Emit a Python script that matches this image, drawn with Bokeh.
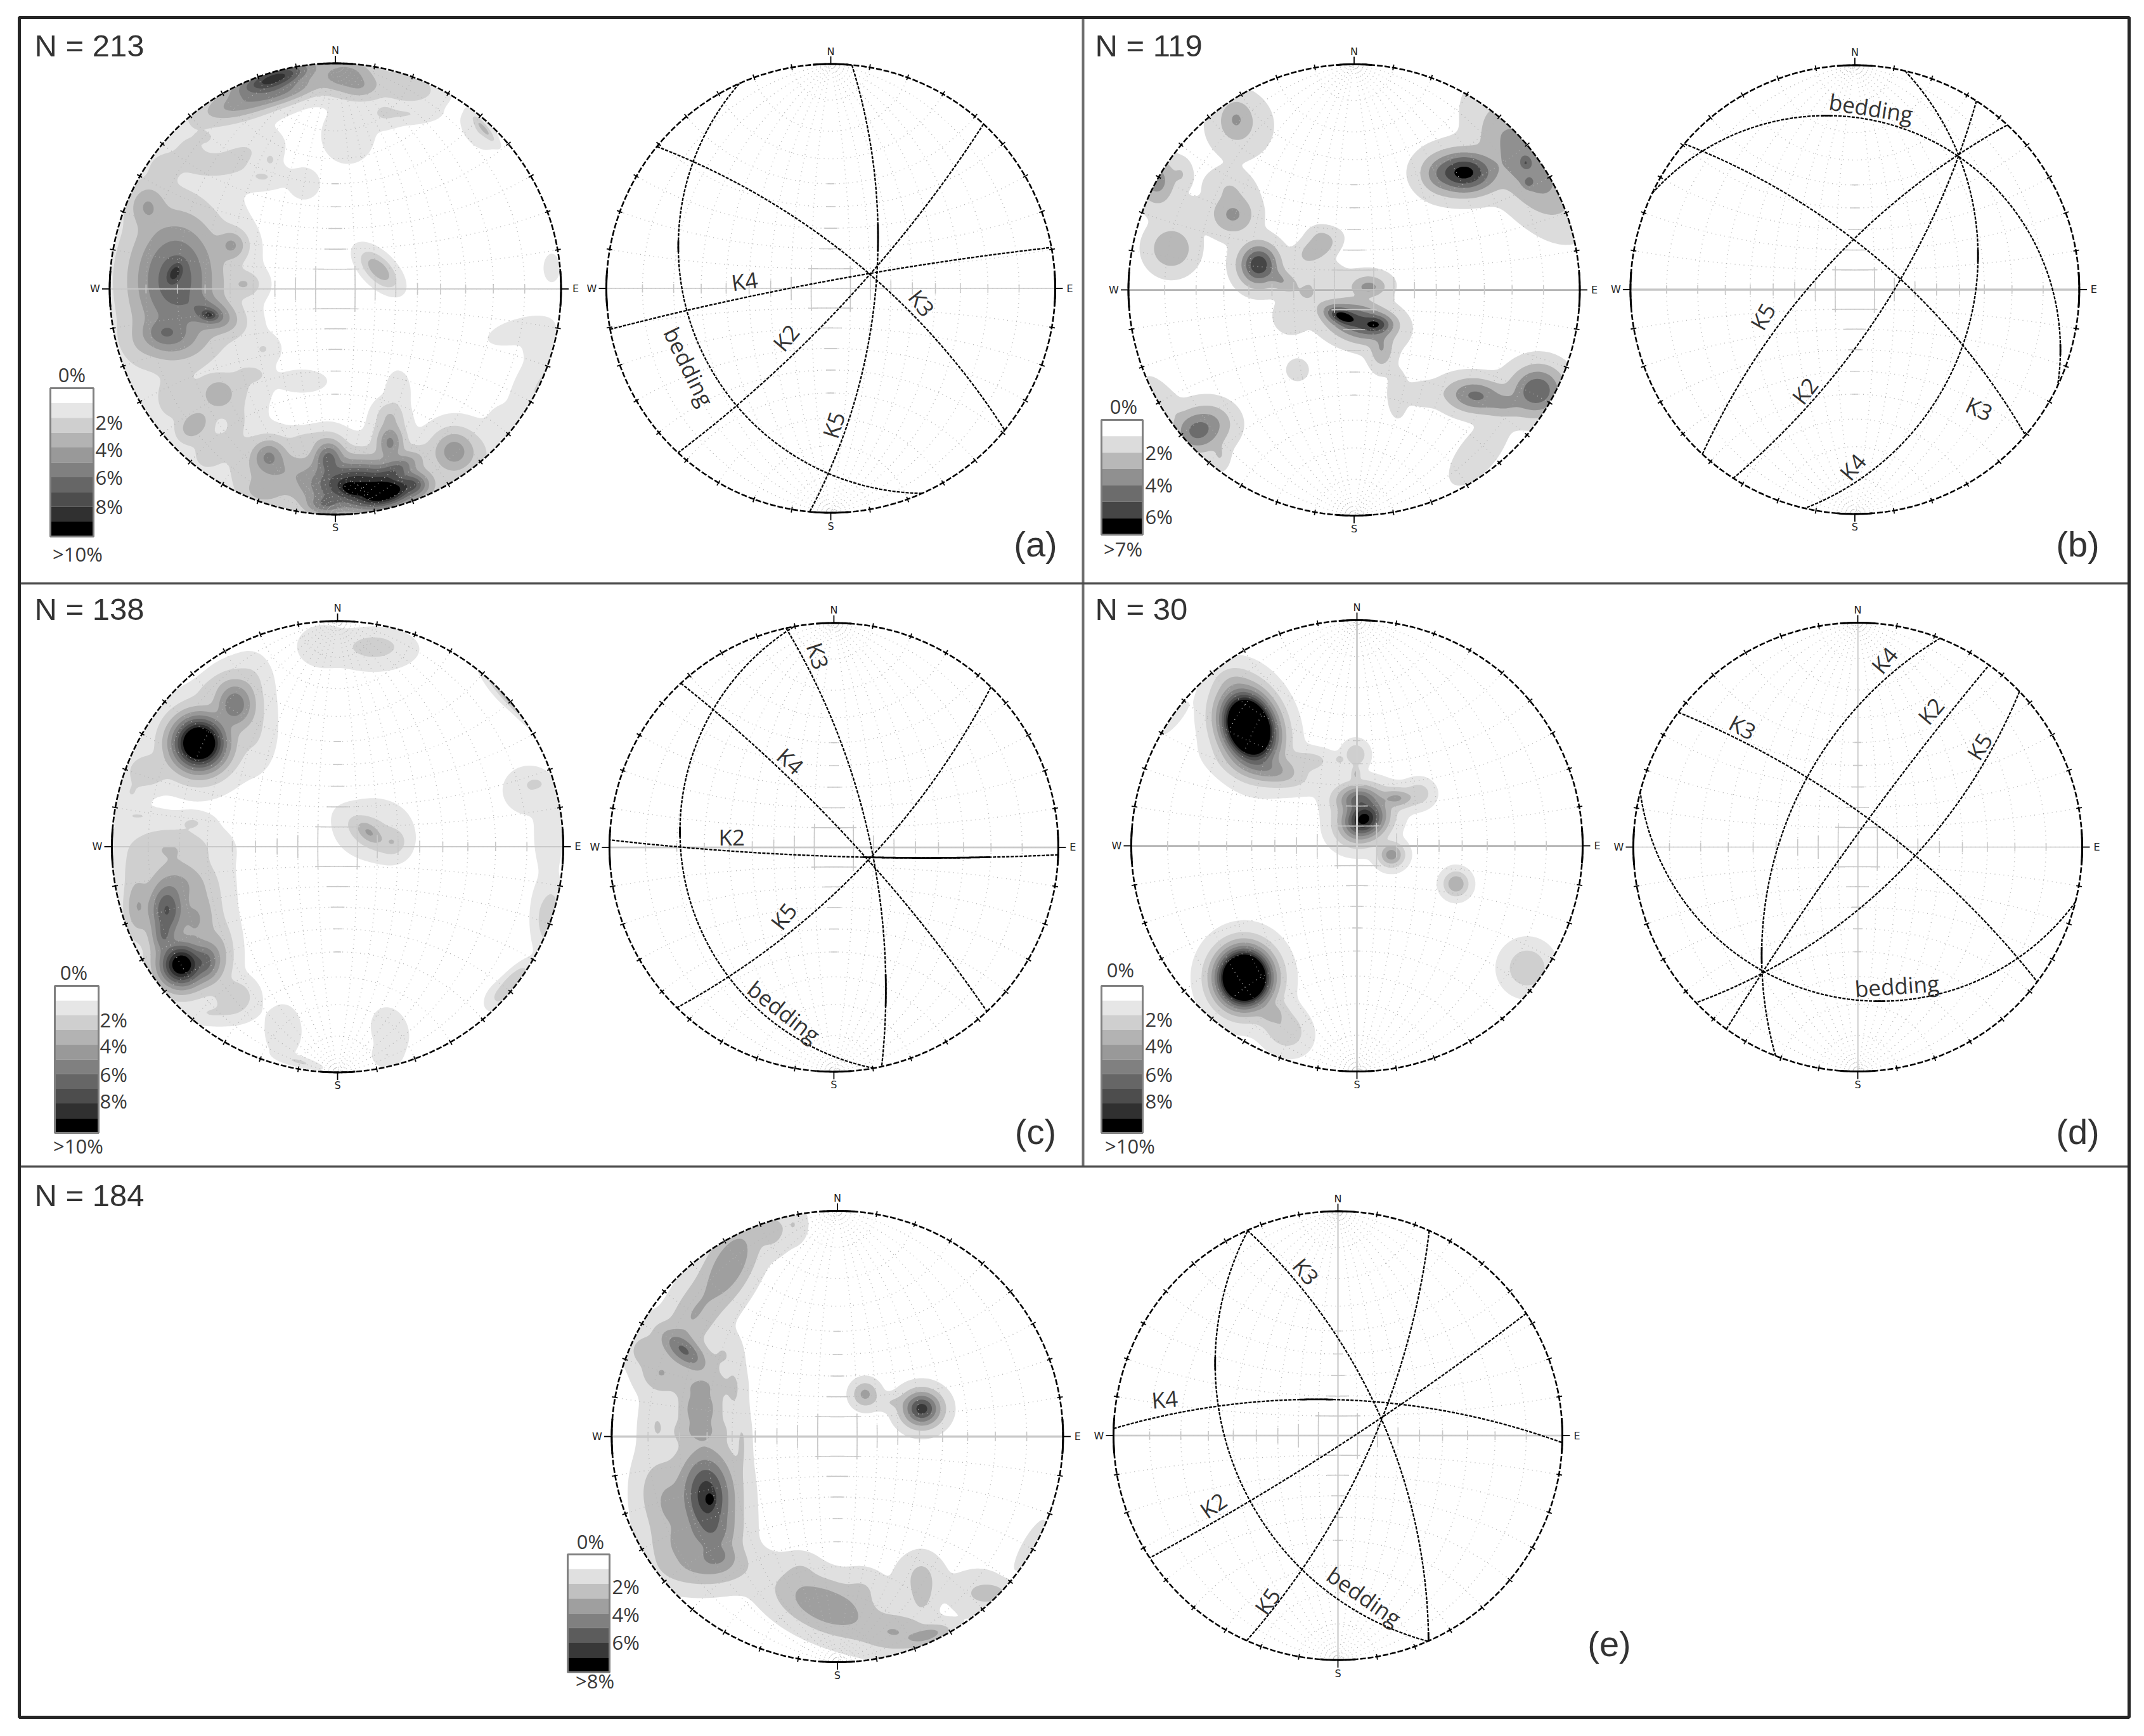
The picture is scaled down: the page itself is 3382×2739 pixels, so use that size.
import numpy as np
from bokeh.plotting import figure
from bokeh.embed import file_html
from bokeh.resources import INLINE
from bokeh.core.properties import value

# ---------- density clusters ----------
# (x, y, peak %, major spread, minor spread, major-axis angle) in reference crop pixels (1.96x)
a_clusters = [
 (590,125,8.6,95,30,18),(600,170,4.9,120,30,15),(480,205,3.95,110,40,15),(810,115,4.6,75,45,0),(860,150,3.5,55,35,0),(1000,150,2.9,85,45,-10),
 (820,300,1.95,65,70,0),(930,230,1.95,50,40,0),(1000,235,1.95,80,25,0),(1240,280,3.4,40,10,-50),(1225,285,1.95,55,35,-50),
 (330,330,1.95,110,85,15),(500,350,1.95,100,60,15),(420,400,1.95,120,50,0),(560,430,1.95,60,30,0),(240,400,1.95,60,60,0),
 (375,305,2.4,18,12,0),(580,375,2.4,12,14,0),(685,450,1.95,38,38,0),
 (285,745,6.7,150,105,88),(285,725,7.6,30,18,60),(390,855,7.3,25,15,-10),(390,850,5.7,70,40,-20),(255,910,5.1,60,40,0),
 (280,930,3.9,95,60,0),(460,640,4.1,40,40,0),(500,760,2.95,45,35,0),(200,520,3.95,50,60,0),(165,960,1.95,50,70,30),
 (420,1100,3.9,48,45,0),(345,1195,3.9,50,36,45),(300,1100,1.95,80,70,0),(420,1260,1.95,90,70,0),(500,1050,1.95,70,90,0),(480,1180,1.95,60,80,0),
 (270,1130,1.95,60,80,0),(380,1300,1.95,60,60,0),(530,1040,2.4,28,18,0),(560,960,1.95,40,35,0),(680,1060,1.95,60,28,0),
 (1350,905,1.95,80,30,15),(1420,950,1.95,45,50,0),(1450,710,1.95,20,35,0),(1370,1090,1.95,35,90,-20),(1420,1060,2.6,45,10,60),(1300,1200,1.95,40,50,0),
 (915,715,3.9,55,28,-45),
 (930,1405,11,65,30,12),(830,1395,9.4,25,14,-20),(850,1380,8.9,120,55,0),(760,1300,6.3,38,45,0),(750,1440,5.6,50,28,0),
 (960,1340,6,70,30,30),(1020,1380,6.4,40,30,0),(950,1250,5.2,35,50,0),(975,1090,1.95,30,50,0),(950,1170,2.9,38,40,0),
 (1148,1278,4.6,55,55,0),(575,1295,5.1,45,45,0),(620,1340,3.5,100,60,0),(560,1400,3.4,60,40,0),(700,1240,2.2,70,28,0),
 (500,1350,1.95,60,80,0),(1220,1290,1.95,60,70,0),(1150,1380,1.95,60,50,0),
]
b_clusters = [
 (1125,415,6.5,70,45,0),(1050,420,2.95,45,45,0),(1320,380,3.95,150,75,-55),(1315,385,4.3,12,14,0),(1325,445,4.3,14,14,0),
 (1215,280,1.95,25,55,-25),(420,250,2.9,40,50,0),(430,270,1.95,85,85,0),(175,440,3.5,45,60,0),
 (220,650,2.95,58,58,0),(410,545,3.2,55,50,0),(400,465,1.95,65,50,-15),(250,420,1.95,28,40,0),(260,530,1.95,60,30,0),
 (490,700,5.9,42,45,0),(555,745,3,50,26,-35),(640,790,1.95,35,30,0),(670,650,2.9,55,30,30),(680,615,1.95,35,30,0),
 (590,860,1.95,45,45,0),(660,740,1.95,80,50,0),(750,860,6.5,42,20,-20),(850,885,5.8,40,24,0),(800,875,4.9,75,45,-15),
 (830,770,3.2,42,24,0),(870,960,2.95,30,50,0),(920,1100,1.95,25,60,0),(830,755,1.95,60,35,0),(610,1025,1.95,28,28,0),
 (1160,1105,4.2,70,40,-5),(1350,1090,4.95,60,55,15),(1250,1130,2.95,60,35,0),(1000,1100,1.95,55,30,0),(1170,1280,1.95,100,45,50),
 (300,1215,4.3,55,48,0),(200,1120,1.95,75,28,-50),(340,1190,2.95,60,50,0),(370,1290,1.95,25,40,0),
]
c_clusters = [
 (360,455,13,55,55,0),(470,335,5.8,50,60,0),(200,540,2.95,55,45,0),(520,260,1.95,50,65,0),(400,275,1.95,80,30,30),
 (150,610,1.95,45,50,0),(530,420,1.95,55,100,0),(170,680,1.95,75,20,0),(340,700,1.95,50,25,0),
 (265,780,2.95,120,60,0),(260,970,7,45,70,0),(305,1140,10.5,50,50,0),(380,1130,6,38,50,0),(250,1050,5.5,32,50,0),
 (300,890,3.9,80,65,0),(350,1000,3.9,50,80,0),(390,960,1.95,55,110,0),(420,1100,2.95,45,90,0),(470,1240,2.95,50,45,0),(400,1290,1.95,90,30,0),
 (170,960,3.9,35,80,0),(150,850,1.95,30,60,0),(900,155,2.7,55,25,0),(740,155,1.95,60,50,0),(900,165,1.95,110,55,0),
 (885,730,3.6,35,20,-40),(885,735,2.8,70,35,-35),(960,760,2.8,35,35,0),(900,720,1.95,95,75,0),(1310,300,5,75,12,-50),
 (1290,280,1.95,70,25,-50),(1400,580,2.4,20,12,0),(1380,600,1.95,65,60,0),(1440,740,1.95,35,95,0),(1450,1000,2.8,28,85,0),
 (1420,1000,1.95,30,90,0),(1330,1190,2.9,60,20,45),(1290,1240,1.95,40,30,45),
 (620,1345,1.95,45,65,0),(950,1345,1.95,45,60,20),(940,1420,1.95,35,30,0),(670,1440,2.2,55,12,-15),
]
d_clusters = [
 (460,405,22,58,42,-70),(510,530,4.6,90,36,-15),(640,510,2.6,65,30,0),(740,505,3,10,10,0),(790,490,2.9,30,32,0),
 (790,550,3.2,12,20,0),(225,380,1.95,50,16,50),(410,270,2.5,50,45,0),(815,690,9.6,48,40,30),(800,630,6.4,50,34,0),
 (915,625,4.2,45,24,0),(985,610,2.6,38,34,0),(900,800,4.6,30,28,0),(1100,890,4,30,30,0),(445,1180,24,42,45,0),
 (530,1290,3.3,40,32,0),(570,1340,2.95,60,50,-40),(1320,1150,2.95,58,58,0),
]
e_clusters = [
 (420,980,6.6,105,62,-87),(430,990,8.2,10,14,0),(450,1165,3.95,55,38,0),(440,1090,3.95,60,60,0),(420,1200,2.95,120,50,0),(350,530,5.1,70,34,-40),
 (400,710,3.9,50,55,0),(400,640,2.95,70,40,0),(400,780,2.95,70,40,0),(490,265,3.95,115,55,62),(380,420,2.95,120,60,60),(280,600,2.95,55,50,0),(230,530,2.5,50,50,0),
 (620,160,2.4,45,55,0),(690,140,1.95,35,50,0),(265,760,1.95,45,95,0),(530,820,1.95,22,110,0),(250,960,1.95,55,110,0),
 (300,1000,2.95,55,100,0),(340,1130,2.95,80,80,0),(470,540,1.95,45,60,0),(505,650,1.95,30,100,0),
 (1085,710,6.5,42,38,0),(910,665,3.3,32,32,0),(1000,690,1.95,60,22,0),(790,1320,3.95,130,62,-22),(1085,1270,2.7,30,60,0),
 (1100,1410,3.5,60,22,15),(1300,1280,2.5,45,25,0),(710,1220,1.95,50,50,0),(900,1270,1.95,60,55,0),
 (1080,1230,1.95,65,65,0),(1260,1280,1.95,75,60,0),(1000,1400,2.95,90,50,0),(1420,1130,1.95,70,18,60),
]

# ---------- planes: strike (deg), dip (deg), by net ----------
a_planes = ["bedding","K2","K3","K4","K5"]
a_strike = [156,42.9,309.2,259.5,5.4]
a_dip    = [24.8,80,71.8,86,67.4]
b_planes = ["bedding","K2","K3","K4","K5"]
b_strike = [295.4,32.8,310.5,12.9,222.8]
b_dip    = [16.5,73,70.7,34,71.8]
c_planes = ["bedding","K2","K3","K4","K5"]
c_strike = [169.8,91.9,347.7,317,44.4]
c_dip    = [21.6,85.4,71.5,81.5,73]
d_planes = ["bedding","K2","K3","K4","K5"]
d_strike = [104.2,215.8,306.9,201.5,46.1]
d_dip    = [22,86,75.2,52.8,66.3]
e_planes = ["bedding","K2","K3","K4","K5"]
e_strike = [156.4,57,336.2,271.8,24]
e_dip    = [38.7,85.4,66.6,71.8,72.7]

# plane label positions in crop pixels and text angle
a_lab = [(365,1035,-64),(665,945,50),(1085,838,-52),(537,770,8),(812,1215,72)]
b_lab = [(825,215,-9),(620,1090,52),(1160,1145,-25),(768,1325,50),(490,860,60)]
c_lab = [(620,1285,-38),(458,745,0),(725,185,-72),(640,510,-42),(618,990,52)]
d_lab = [(905,1205,4),(1010,355,50),(428,405,-28),(866,198,50),(1160,465,58)]
e_lab = [(885,1290,-35),(418,1008,35),(705,285,-50),(268,680,5),(585,1305,55)]

# sample sizes, panel letters, legend labels
n_values = ["N = 213","N = 119","N = 138","N = 30","N = 184"]
letters = ["(a)","(b)","(c)","(d)","(e)"]
a_legend = ["2%","4%","6%","8%"]
b_legend = ["2%","4%","6%"]
e_legend = ["2%","4%","6%"]
top_labels = [">10%",">7%",">10%",">10%",">8%"]
gray10 = ["#ffffff","#e6e6e6","#cfcfcf","#b3b3b3","#999999","#808080","#666666","#4d4d4d","#303030","#000000"]
gray7  = ["#ffffff","#dcdcdc","#b8b8b8","#909090","#6c6c6c","#464646","#000000"]
gray8  = ["#ffffff","#e0e0e0","#c0c0c0","#9f9f9f","#808080","#5c5c5c","#383838","#000000"]

W, H = 3382, 2739
ZOOM = 1.96
p = figure(width=W-16, height=H-16, x_range=(0,W-16), y_range=(H-16,0), toolbar_location=None,
           output_backend="svg", min_border=0, x_axis_location=None, y_axis_location=None,
           outline_line_color=None, background_fill_color="white", border_fill_color="white")
p.grid.visible = False

DARK = "#3a3a3a"
def txt(xs, ys, texts, size, font="Open Sans", color=DARK, align="center", angle=None, style="normal"):
    p.text(x=xs, y=ys, text=texts, angle=angle if angle is not None else [0]*len(xs), angle_units="deg",
           text_font=value(font), text_font_size=size, text_color=color, text_align=align,
           text_baseline="middle", text_font_style=style)

def density(cx, cy, R, ox, oy, clusters, colors):
    step = 3.0
    xs = np.arange(cx-R-6, cx+R+6, step)
    ys = np.arange(cy-R-6, cy+R+6, step)
    X, Y = np.meshgrid(xs, ys)
    zx = (X-ox)*ZOOM
    zy = (Y-oy)*ZOOM
    acc = np.zeros_like(X)
    for (bx,by,pk,sa,sb,rot) in clusters:
        t = np.radians(rot)
        dx = zx-bx
        dy = -(zy-by)
        u = dx*np.cos(t)+dy*np.sin(t)
        v = -dx*np.sin(t)+dy*np.cos(t)
        acc += (pk*(1+((u/sa)**2+(v/sb)**2)/4)**-2)**3
    Z = acc**(1/3)
    Z = np.ma.masked_where((X-cx)**2+(Y-cy)**2 > (R+5)**2, Z)
    for i, col in enumerate(colors[1:]):
        p.contour(xs, ys, Z, levels=[i+1, 1000.0], fill_color=[col], line_color=None)
    p.annulus(x=[cx], y=[cy], inner_radius=R, outer_radius=R+9, fill_color="white", line_color=None)

def project(E, N, D):
    return E/(1+D), N/(1+D)

def plane_curve(strike, dip, n=181):
    s = np.radians(strike); d = np.radians(dip)
    sv = np.array([np.sin(s), np.cos(s), 0.0])
    dd = s+np.pi/2
    dv = np.array([np.sin(dd)*np.cos(d), np.cos(dd)*np.cos(d), np.sin(d)])
    t = np.radians(np.linspace(0,180,n))
    E = np.cos(t)*sv[0]+np.sin(t)*dv[0]
    N = np.cos(t)*sv[1]+np.sin(t)*dv[1]
    D = np.cos(t)*sv[2]+np.sin(t)*dv[2]
    return project(E,N,D)

def axis_runs(x, y, tol):
    """stretches of a curve that run almost along a pixel axis"""
    ang = np.degrees(np.arctan2(np.abs(np.diff(y)), np.abs(np.diff(x))))
    near = (ang < tol) | (ang > 90-tol)
    runs = []
    i = 0
    while i < len(near):
        if near[i]:
            j = i
            while j+1 < len(near) and near[j+1]:
                j += 1
            if np.hypot(x[j+1]-x[i], y[j+1]-y[i]) > 8:
                runs.append((x[i:j+2], y[i:j+2]))
            i = j+1
        else:
            i += 1
    return runs

def net(cx, cy, R):
    curves = []
    for d in range(10,90,10):
        for st in (0,180):
            curves.append(plane_curve(st,d,n=721))
    for a in range(10,180,10):
        ar = np.radians(a)
        ph = np.radians(np.linspace(0,180,721))
        E = np.sin(ar)*np.cos(ph); D = np.sin(ar)*np.sin(ph); N = np.full_like(ph,np.cos(ar))
        curves.append(project(E,N,D))
    mx = [cx+R*c[0][::4] for c in curves]; my = [cy-R*c[1][::4] for c in curves]
    p.multi_line(mx, my, line_color="#b4b4b4", line_width=1.4, line_dash="1 6")
    rx, ry = [], []
    for c in curves:
        for rn in axis_runs(cx+R*c[0], cy-R*c[1], 1.0):
            rx.append(rn[0]); ry.append(rn[1])
    p.multi_line(rx, ry, line_color="#c8c8c8", line_width=1.6)

def rim(cx, cy, R):
    th = np.radians(np.arange(0,360.5,0.5))
    p.line(cx+R*np.sin(th), cy-R*np.cos(th), line_color="black", line_width=2.6, line_dash="9 3")
    x0,x1,y0,y1 = [],[],[],[]
    for a in range(0,360,10):
        t = np.radians(a)
        out = 12 if a%90==0 else 5
        inn = 0 if a%90==0 else 4
        x0.append(cx+(R-inn)*np.sin(t)); y0.append(cy-(R-inn)*np.cos(t))
        x1.append(cx+(R+out)*np.sin(t)); y1.append(cy-(R+out)*np.cos(t))
    p.segment(x0,y0,x1,y1,line_color="black",line_width=1.8)
    for a in (0,90,180,270):
        th = np.radians(np.linspace(a-4.5,a+4.5,12))
        p.line(cx+R*np.sin(th), cy-R*np.cos(th), line_color="black", line_width=3)
    txt([cx,cx,cx-R-23,cx+R+23],[cy-R-20,cy+R+21,cy,cy],["N","S","W","E"],"16px",font="DejaVu Sans",color="#222222")

def axis_lines(cx, cy, R, ew=None, ns=None):
    if ew: p.segment([cx-R],[cy],[cx+R],[cy],line_color=ew,line_width=3)
    if ns: p.segment([cx],[cy-R],[cx],[cy+R],line_color=ns,line_width=3)

def planes(cx, cy, R, ox, oy, names, strikes, dips, labs):
    for st,d in zip(strikes,dips):
        e,n = plane_curve(st,d,n=721)
        x, y = cx+R*e, cy-R*n
        p.line(x[::3], y[::3], line_color="black", line_width=2.3, line_dash="5 2")
        for rn in axis_runs(x, y, 1.3):
            p.line(rn[0], rn[1], line_color="black", line_width=2.8)
    txt([ox+l[0]/ZOOM for l in labs],[oy+l[1]/ZOOM for l in labs],names,"35px",angle=[l[2] for l in labs],color="#333333")

def legend(x0,x1,y0,y1,colors,labels,label_ys,lab_x,zero,top,top_label):
    n = len(colors)
    edges = np.linspace(y0,y1,n+1)
    p.quad(left=[x0]*n,right=[x1]*n,top=edges[:-1].tolist(),bottom=edges[1:].tolist(),fill_color=colors,line_color=None)
    p.quad(left=[x0],right=[x1],top=[y0],bottom=[y1],fill_color=None,line_color="#808080",line_width=3)
    txt([zero[0]],[zero[1]],["0%"],"31px")
    txt([lab_x]*len(labels),label_ys,labels,"31px",align="left")
    txt([top[0]],[top[1]],[top_label],"31px")

# panels: density-net centre, crop origin
R = 356
panels = [
 dict(c=(528.5,455.4),o=(130,60),cl=a_clusters,col=gray10,ew=None,ns=None),
 dict(c=(2135.5,456.9),o=(1735,60),cl=b_clusters,col=gray7,ew="#ababab",ns=None),
 dict(c=(532,1335.4),o=(130,940),cl=c_clusters,col=gray10,ew=None,ns=None),
 dict(c=(2140,1334),o=(1735,940),cl=d_clusters,col=gray10,ew="#a8a8a8",ns="#d0d0d0"),
 dict(c=(1320.4,2266),o=(900,1860),cl=e_clusters,col=gray8,ew="#ababab",ns=None),
]
nets = [
 dict(c=(1310,454.5),o=(900,50),names=a_planes,s=a_strike,d=a_dip,l=a_lab,ew=None,ns=None),
 dict(c=(2925.4,456.4),o=(2530,60),names=b_planes,s=b_strike,d=b_dip,l=b_lab,ew="#ababab",ns=None),
 dict(c=(1314.9,1336.4),o=(920,940),names=c_planes,s=c_strike,d=c_dip,l=c_lab,ew="#d8d8d8",ns=None),
 dict(c=(2930,1336),o=(2530,940),names=d_planes,s=d_strike,d=d_dip,l=d_lab,ew=None,ns="#dcdcdc"),
 dict(c=(2110,2264.6),o=(1700,1860),names=e_planes,s=e_strike,d=e_dip,l=e_lab,ew="#dcdcdc",ns="#dcdcdc"),
]
for q in panels:
    cx,cy = q["c"]
    density(cx,cy,R,q["o"][0],q["o"][1],q["cl"],q["col"])
    axis_lines(cx,cy,R,q["ew"],q["ns"])
    net(cx,cy,R); rim(cx,cy,R)
for q in nets:
    cx,cy = q["c"]
    axis_lines(cx,cy,R-2,q["ew"],q["ns"])
    net(cx,cy,R-2); rim(cx,cy,R-2)
    planes(cx,cy,R-2,q["o"][0],q["o"][1],q["names"],q["s"],q["d"],q["l"])

# colour legends
legend(79,147,612,846,gray10,a_legend,[665,708,752,798],150,(113,590),(122,873),top_labels[0])
legend(1737,1802,662,843,gray7,b_legend,[713,764,814],1806,(1772,640),(1771,865),top_labels[1])
legend(86,155,1555,1787,gray10,a_legend,[1608,1649,1694,1736],157,(116,1533),(123,1807),top_labels[2])
legend(1737,1802,1555,1787,gray10,a_legend,[1607,1649,1694,1736],1806,(1767,1529),(1782,1807),top_labels[3])
legend(895,961,2452,2638,gray8,e_legend,[2502,2546,2590],965,(931,2431),(938,2651),top_labels[4])

# headers and panel letters
txt([54,1727,54,1727,54],[71,71,960,960,1885],n_values,"49px",font="Liberation Sans",align="left",color="#333333")
txt([1633,3277,1633,3277,2538],[858,858,1785,1785,2593],letters,"56px",font="Liberation Sans",color="#333333")

# frame
p.segment([1708],[27],[1708],[1840],line_color="#6e6e6e",line_width=4)
p.segment([30,30],[920,1840],[3358,3358],[920,1840],line_color="#4a4a4a",line_width=3.5)
p.quad(left=[30],right=[3358],top=[27],bottom=[2709],fill_color=None,line_color="#262626",line_width=5)

open("out.html","w").write(file_html(p, INLINE))
